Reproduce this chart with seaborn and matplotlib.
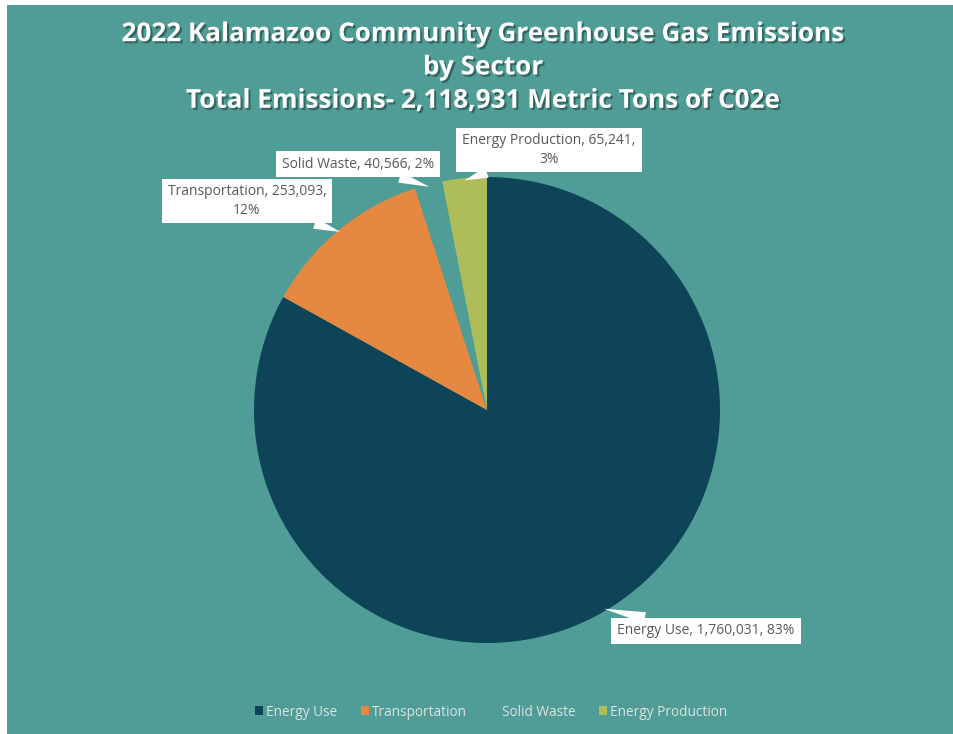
import numpy as np
import matplotlib
matplotlib.use("Agg")
import matplotlib.pyplot as plt
import matplotlib.patheffects as pe
from matplotlib.patches import Rectangle, Patch
import seaborn as sns

# ---- data ----
sectors = ["Energy Use", "Transportation", "Solid Waste", "Energy Production"]
emissions = [1760031, 253093, 40566, 65241]
percent_labels = ["83%", "12%", "2%", "3%"]
title_lines = ["2022 Kalamazoo Community Greenhouse Gas Emissions",
               "by Sector",
               "Total Emissions- 2,118,931 Metric Tons of C02e"]

# ---- style ----
sns.set_theme(style="white")
plt.rcParams["font.family"] = ["Open Sans", "DejaVu Sans"]

BG = "#4f9d96"
colors = ["#0d4457", "#e48842", BG, "#aebd5a"]
label_color = "#595959"

W, H = 954, 734
fig = plt.figure(figsize=(W / 100, H / 100), dpi=100)
fig.patch.set_facecolor("white")
fig.patches.append(Rectangle((7 / W, 0), 1 - 7 / W, 1 - 5 / H,
                             transform=fig.transFigure, facecolor=BG,
                             edgecolor="none", zorder=-10))

cx, cy, R = 487, 410, 233
ax = fig.add_axes([(cx - R) / W, (H - cy - R) / H, 2 * R / W, 2 * R / H])
ax.set_facecolor("none")
ax.set_zorder(5)

wedges, _ = ax.pie(emissions, colors=colors,
                   startangle=90, counterclock=False, radius=1.0,
                   wedgeprops=dict(linewidth=0))
ax.set_xlim(-1, 1)
ax.set_ylim(-1, 1)
ax.set_aspect("equal")
ax.axis("off")

def px2d(px, py):
    return ((px - cx) / R, (cy - py) / R)

label_pos = {
    "Energy Use": px2d(706, 631),
    "Transportation": px2d(247, 201),
    "Solid Waste": px2d(358, 164),
    "Energy Production": px2d(549, 150),
}
wrap = {"Energy Use": False, "Transportation": True,
        "Solid Waste": False, "Energy Production": True}

for w, name, val, pct in zip(wedges, sectors, emissions, percent_labels):
    mid = np.deg2rad((w.theta1 + w.theta2) / 2)
    tip = (np.cos(mid) * 0.99, np.sin(mid) * 0.99)
    if wrap[name]:
        txt = f"{name}, {val:,},\n{pct}"
    else:
        txt = f"{name}, {val:,}, {pct}"
    ax.annotate(txt, xy=tip, xytext=label_pos[name], textcoords="data",
                ha="center", va="center", fontsize=10, color=label_color,
                linespacing=1.3,
                bbox=dict(boxstyle="square,pad=0.42", fc="white", ec="none"),
                arrowprops=dict(arrowstyle="wedge,tail_width=0.8,shrink_factor=0.5",
                                fc="white", ec="none", shrinkA=0, shrinkB=0),
                annotation_clip=False, zorder=5)

# title
fig.text(483 / W, 1 - 67 / H, "\n".join(title_lines), ha="center", va="center",
         fontsize=18.8, fontweight="bold", color="white", linespacing=1.3,
         path_effects=[pe.withSimplePatchShadow(offset=(1.5, -1.5),
                                                 shadow_rgbFace="black", alpha=0.35)])

# legend
handles = [Patch(facecolor=c, edgecolor="none") for c in colors]
leg = fig.legend(handles, sectors, loc="center", bbox_to_anchor=(491 / W, 1 - 712 / H),
                 ncol=4, frameon=False, fontsize=9.8, handlelength=0.6,
                 handleheight=0.6, handletextpad=0.25, columnspacing=1.7)
for t in leg.get_texts():
    t.set_color("#dce3e2")

fig.savefig("out.png", dpi=100, facecolor=fig.get_facecolor())
